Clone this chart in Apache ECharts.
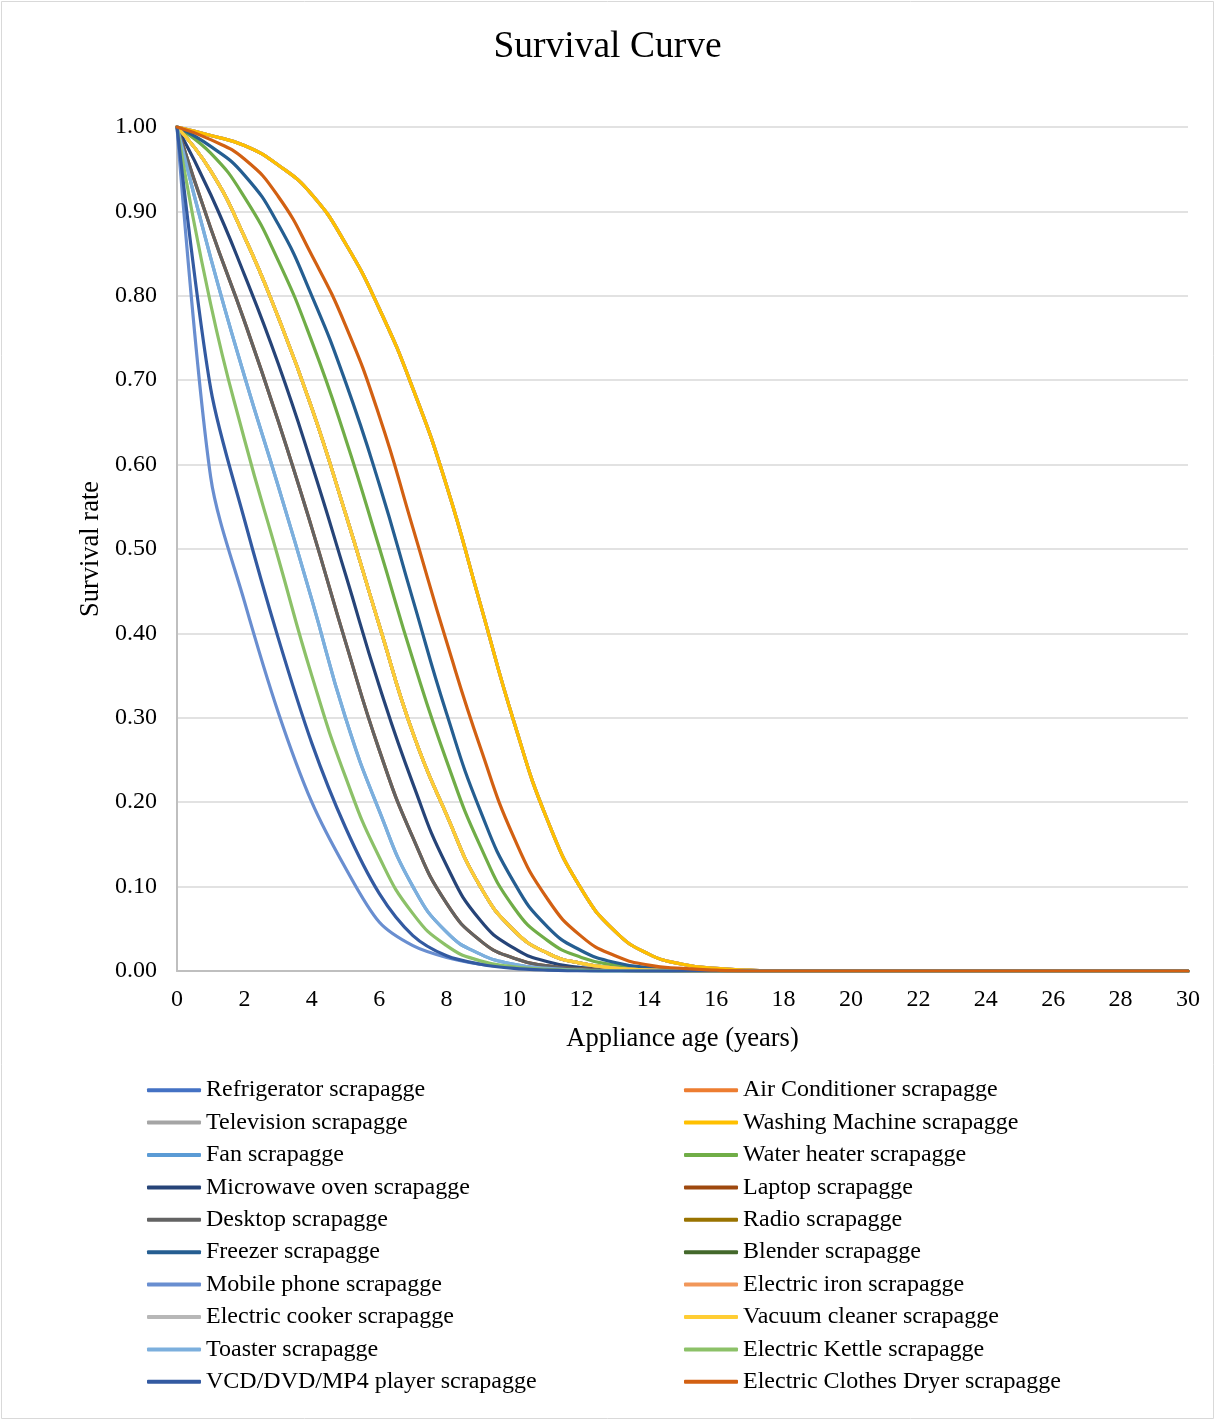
<!DOCTYPE html>
<html>
<head>
<meta charset="utf-8">
<title>Survival Curve</title>
<script src="https://cdn.jsdelivr.net/npm/echarts@6/dist/echarts.min.js"></script>
<style>
  html, body { margin: 0; padding: 0; background: #ffffff; }
  #chart { width: 1215px; height: 1420px; }
</style>
</head>
<body>
<div id="chart"></div>
<script>
// Appliance age in years (x axis)
const ages = [0, 1, 2, 3, 4, 5, 6, 7, 8, 9, 10, 11, 12, 13, 14, 15, 16, 17, 18, 19, 20, 21, 22, 23, 24, 25, 26, 27, 28, 29, 30];

// Survival rate by age for each distinct scrappage curve
const longLife = [1, 0.99, 0.978, 0.955, 0.92, 0.862, 0.785, 0.69, 0.575, 0.435, 0.295, 0.178, 0.097, 0.047, 0.02, 0.008, 0.003, 0.001, 0, 0, 0, 0, 0, 0, 0, 0, 0, 0, 0, 0, 0];
const dryerCurve = [1, 0.985, 0.962, 0.918, 0.848, 0.765, 0.658, 0.525, 0.39, 0.265, 0.158, 0.085, 0.041, 0.018, 0.007, 0.003, 0.001, 0, 0, 0, 0, 0, 0, 0, 0, 0, 0, 0, 0, 0, 0];
const freezerCurve = [1, 0.977, 0.943, 0.885, 0.8, 0.698, 0.577, 0.44, 0.305, 0.19, 0.105, 0.052, 0.024, 0.01, 0.004, 0.0015, 0.0005, 0, 0, 0, 0, 0, 0, 0, 0, 0, 0, 0, 0, 0, 0];
const waterHeaterCurve = [1, 0.969, 0.917, 0.842, 0.746, 0.631, 0.502, 0.369, 0.249, 0.148, 0.075, 0.036, 0.016, 0.007, 0.003, 0.001, 0, 0, 0, 0, 0, 0, 0, 0, 0, 0, 0, 0, 0, 0, 0];
const smallApplianceCurve = [1, 0.948, 0.87, 0.775, 0.667, 0.542, 0.41, 0.282, 0.185, 0.1, 0.048, 0.021, 0.009, 0.0035, 0.0012, 0.0004, 0, 0, 0, 0, 0, 0, 0, 0, 0, 0, 0, 0, 0, 0, 0];
const microwaveCurve = [1, 0.92, 0.825, 0.72, 0.6, 0.47, 0.338, 0.222, 0.125, 0.06, 0.027, 0.011, 0.004, 0.0015, 0.0005, 0, 0, 0, 0, 0, 0, 0, 0, 0, 0, 0, 0, 0, 0, 0, 0];
const computerCurve = [1, 0.88, 0.77, 0.652, 0.525, 0.39, 0.262, 0.158, 0.08, 0.036, 0.015, 0.006, 0.0025, 0.001, 0, 0, 0, 0, 0, 0, 0, 0, 0, 0, 0, 0, 0, 0, 0, 0, 0];
const toasterCurve = [1, 0.845, 0.705, 0.575, 0.44, 0.3, 0.19, 0.1, 0.046, 0.02, 0.008, 0.003, 0.001, 0, 0, 0, 0, 0, 0, 0, 0, 0, 0, 0, 0, 0, 0, 0, 0, 0, 0];
const kettleCurve = [1, 0.79, 0.63, 0.49, 0.35, 0.23, 0.135, 0.068, 0.03, 0.012, 0.005, 0.002, 0.0007, 0, 0, 0, 0, 0, 0, 0, 0, 0, 0, 0, 0, 0, 0, 0, 0, 0, 0];
const playerCurve = [1, 0.69, 0.535, 0.395, 0.27, 0.17, 0.092, 0.042, 0.018, 0.008, 0.003, 0.001, 0, 0, 0, 0, 0, 0, 0, 0, 0, 0, 0, 0, 0, 0, 0, 0, 0, 0, 0];
const mobileCurve = [1, 0.585, 0.438, 0.307, 0.2, 0.122, 0.058, 0.03, 0.016, 0.008, 0.004, 0.0015, 0.0005, 0, 0, 0, 0, 0, 0, 0, 0, 0, 0, 0, 0, 0, 0, 0, 0, 0, 0];

// Series names, in drawing order
const seriesNames = [
  'Refrigerator scrapagge', 'Air Conditioner scrapagge',
  'Television scrapagge', 'Washing Machine scrapagge',
  'Fan scrapagge', 'Water heater scrapagge',
  'Microwave oven scrapagge', 'Laptop scrapagge',
  'Desktop scrapagge', 'Radio scrapagge',
  'Freezer scrapagge', 'Blender scrapagge',
  'Mobile phone scrapagge', 'Electric iron scrapagge',
  'Electric cooker scrapagge', 'Vacuum cleaner scrapagge',
  'Toaster scrapagge', 'Electric Kettle scrapagge',
  'VCD/DVD/MP4 player scrapagge', 'Electric Clothes Dryer scrapagge'
];

// Which survival curve each appliance follows
const seriesValues = [
  longLife, longLife,
  longLife, longLife,
  toasterCurve, waterHeaterCurve,
  microwaveCurve, computerCurve,
  computerCurve, smallApplianceCurve,
  freezerCurve, smallApplianceCurve,
  mobileCurve, smallApplianceCurve,
  smallApplianceCurve, smallApplianceCurve,
  toasterCurve, kettleCurve,
  playerCurve, dryerCurve
];

const palette = [
  '#4472C4', '#ED7D31', '#A5A5A5', '#FFC000', '#5B9BD5',
  '#70AD47', '#264478', '#9E480E', '#636363', '#997300',
  '#255E91', '#43682B', '#698ED0', '#F1975A', '#B7B7B7',
  '#FFCD33', '#7CAFDD', '#8CC168', '#335AA1', '#D26012'
];

const FONT = '"Liberation Serif", "Times New Roman", serif';

// The two fastest-dropping curves bend sharply after the first year,
// so they get a tighter spline.
const series = seriesNames.map((name, i) => ({
  name: name,
  type: 'line',
  smooth: (seriesValues[i] === mobileCurve || seriesValues[i] === playerCurve) ? 0.3 : true,
  symbol: 'none',
  showSymbol: false,
  data: ages.map((a, k) => [a, seriesValues[i][k]]),
  lineStyle: { width: 3.2, color: palette[i], cap: 'round', join: 'round' },
  itemStyle: { color: palette[i] },
  emphasis: { disabled: true }
}));

const legendBase = {
  orient: 'vertical',
  top: 1074,
  padding: 0,
  icon: 'roundRect',
  itemWidth: 54,
  itemHeight: 4,
  itemGap: 0,
  selectedMode: false,
  textStyle: { fontFamily: FONT, fontSize: 24, color: '#000', lineHeight: 32.4 }
};

const option = {
  animation: false,
  backgroundColor: '#ffffff',
  color: palette,
  title: {
    text: 'Survival Curve',
    left: 'center',
    top: 23,
    textStyle: { fontFamily: FONT, fontSize: 37.5, fontWeight: 'normal', color: '#000' }
  },
  graphic: [{
    type: 'rect',
    shape: { x: 1.5, y: 1.5, width: 1212, height: 1417 },
    style: { fill: 'none', stroke: '#d9d9d9', lineWidth: 1 },
    silent: true
  }],
  legend: [
    Object.assign({}, legendBase, { left: 147, data: seriesNames.filter((n, i) => i % 2 === 0) }),
    Object.assign({}, legendBase, { left: 684, data: seriesNames.filter((n, i) => i % 2 === 1) })
  ],
  grid: { left: 177, right: 27, top: 127, bottom: 449, containLabel: false },
  xAxis: {
    type: 'value',
    min: 0,
    max: 30,
    interval: 2,
    name: 'Appliance age (years)',
    nameLocation: 'middle',
    nameGap: 55,
    nameTextStyle: { fontFamily: FONT, fontSize: 26.5, color: '#000' },
    axisLine: { show: true, lineStyle: { color: '#bfbfbf', width: 2 } },
    axisTick: { show: false },
    splitLine: { show: false },
    axisLabel: { fontFamily: FONT, fontSize: 24, color: '#000', margin: 17 }
  },
  yAxis: {
    type: 'value',
    min: 0,
    max: 1,
    interval: 0.1,
    name: 'Survival rate',
    nameLocation: 'middle',
    nameGap: 68,
    nameRotate: 90,
    nameTextStyle: { fontFamily: FONT, fontSize: 26.5, color: '#000' },
    axisLine: { show: true, lineStyle: { color: '#bfbfbf', width: 2 } },
    axisTick: { show: false },
    splitLine: { show: true, lineStyle: { color: '#d9d9d9', width: 1.5 } },
    axisLabel: {
      fontFamily: FONT, fontSize: 24, color: '#000', margin: 20,
      formatter: v => v.toFixed(2)
    }
  },
  series: series
};

const chart = echarts.init(document.getElementById('chart'), null, { renderer: 'canvas' });
chart.setOption(option);
</script>
</body>
</html>
